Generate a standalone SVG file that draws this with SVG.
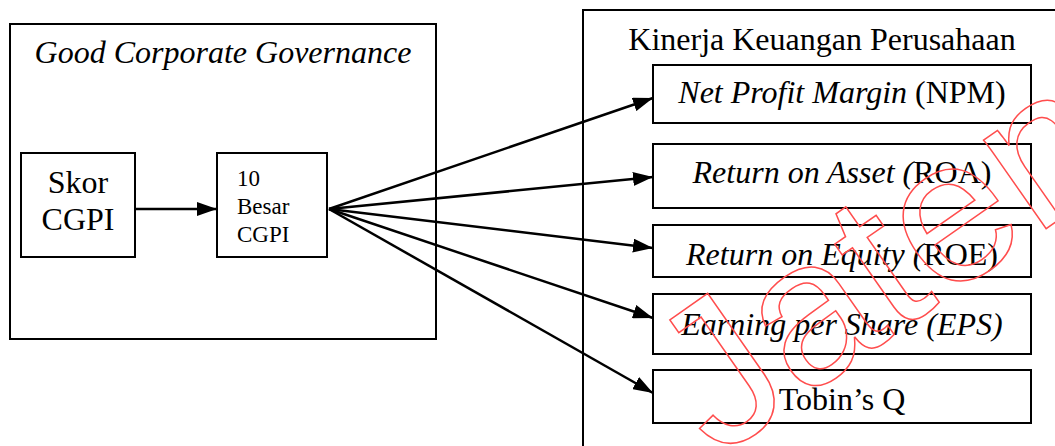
<svg xmlns="http://www.w3.org/2000/svg" width="1055" height="446" viewBox="0 0 1055 446">
<style>
.box{fill:none;stroke:#000;stroke-width:2}
.t{font-family:"Liberation Serif","Times New Roman",serif;fill:#000}
.i{font-style:italic}
.c{stroke:#000;stroke-width:2.5;fill:none}
.wm{font-family:"Liberation Sans",Arial,sans-serif;fill:none;stroke:#ff4d4d;stroke-width:1.5}
</style>
<defs>
<marker id="ah" markerUnits="userSpaceOnUse" markerWidth="20" markerHeight="14" refX="20" refY="7" orient="auto">
<path d="M0,0 L20,7 L0,14 z" fill="#000"/>
</marker>
</defs>
<rect width="1055" height="446" fill="#fff"/>
<g id="gcg">
<rect class="box" x="10" y="24" width="426" height="315"/>
<text class="t i" x="223" y="63" font-size="32" text-anchor="middle">Good Corporate Governance</text>
</g>
<g id="skor">
<rect class="box" x="21" y="153" width="114" height="104"/>
<text class="t" x="78" y="193" font-size="32" text-anchor="middle">Skor</text>
<text class="t" x="78" y="230" font-size="32" text-anchor="middle">CGPI</text>
</g>
<g id="besar">
<rect class="box" x="217" y="153" width="110" height="104"/>
<text class="t" x="237" y="186" font-size="23">10</text>
<text class="t" x="237" y="214" font-size="23">Besar</text>
<text class="t" x="237" y="242" font-size="23">CGPI</text>
</g>
<g id="kinerja">
<rect class="box" x="583" y="10" width="500" height="460"/>
<text class="t" x="822" y="50" font-size="32" text-anchor="middle">Kinerja Keuangan Perusahaan</text>
</g>
<g id="npm">
<rect class="box" x="653" y="65" width="378" height="58"/>
<text class="t" x="842" y="103" font-size="32" text-anchor="middle"><tspan class="i">Net Profit Margin</tspan> (NPM)</text>
</g>
<g id="roa">
<rect class="box" x="653" y="144" width="378" height="64"/>
<text class="t" x="842" y="183" font-size="32" text-anchor="middle"><tspan class="i">Return on Asset (</tspan>ROA)</text>
</g>
<g id="roe">
<rect class="box" x="653" y="225" width="378" height="52"/>
<text class="t" x="842" y="265" font-size="32" text-anchor="middle"><tspan class="i">Return on Equity (</tspan>ROE)</text>
</g>
<g id="eps">
<rect class="box" x="653" y="294" width="378" height="60"/>
<text class="t i" x="842" y="335" font-size="32" text-anchor="middle">Earning per Share (EPS)</text>
</g>
<g id="tobin">
<rect class="box" x="653" y="370" width="378" height="53"/>
<text class="t" x="842" y="410" font-size="32" text-anchor="middle">Tobin’s Q</text>
</g>
<g id="connectors">
<line class="c" x1="135" y1="209" x2="217" y2="209" marker-end="url(#ah)"/>
<line class="c" x1="329" y1="209" x2="653" y2="98" marker-end="url(#ah)"/>
<line class="c" x1="329" y1="209" x2="653" y2="177" marker-end="url(#ah)"/>
<line class="c" x1="329" y1="209" x2="653" y2="248" marker-end="url(#ah)"/>
<line class="c" x1="329" y1="209" x2="653" y2="318" marker-end="url(#ah)"/>
<line class="c" x1="329" y1="209" x2="653" y2="393" marker-end="url(#ah)"/>
</g>
<g id="watermark">
<text class="wm" font-size="205" transform="translate(717,459) rotate(-35)">Jaten</text>
</g>
</svg>
